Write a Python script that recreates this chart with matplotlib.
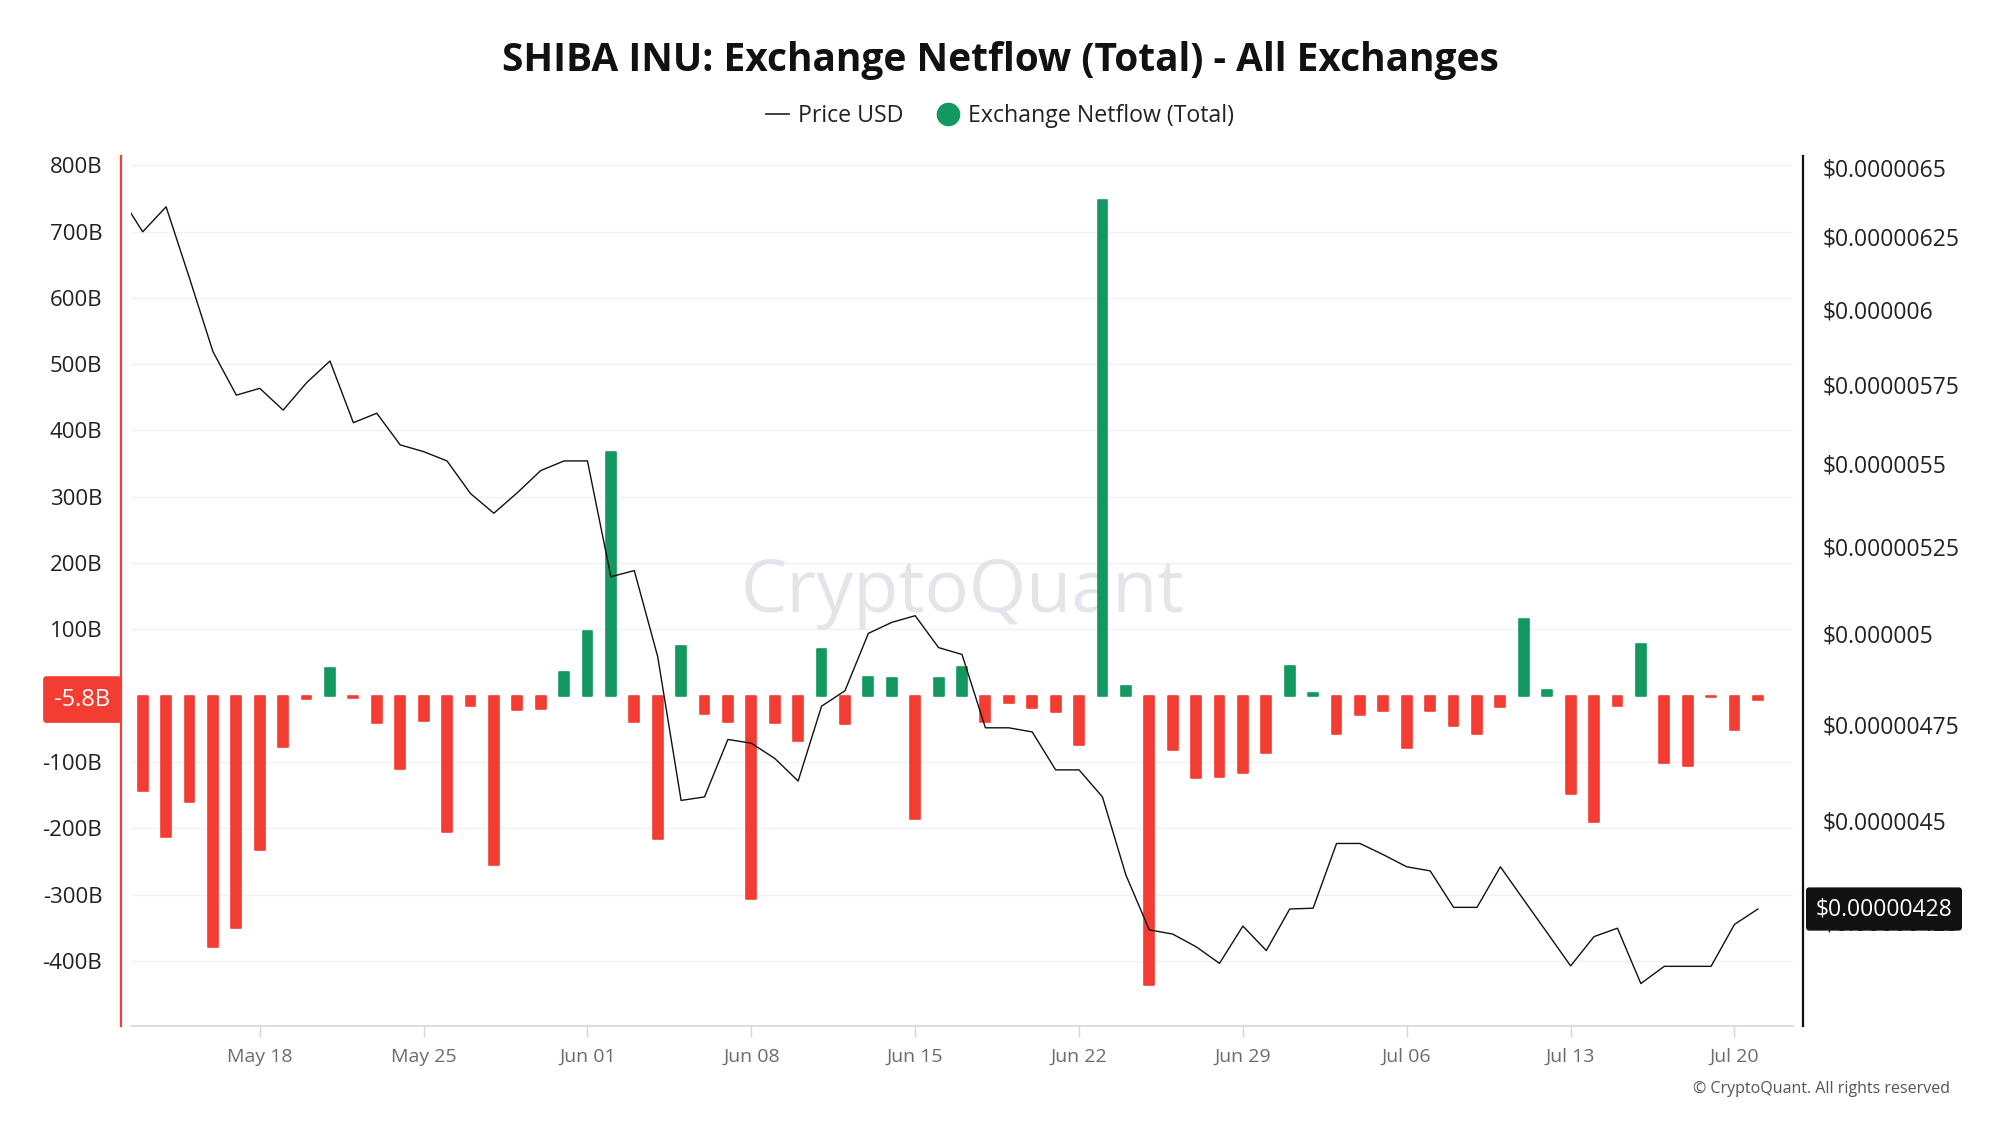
import matplotlib
matplotlib.use('Agg')
import matplotlib.pyplot as plt
import matplotlib.dates as mdates
import matplotlib.transforms as mtransforms
from matplotlib.lines import Line2D
from matplotlib.ticker import FixedLocator, FixedFormatter, NullLocator
import pandas as pd

plt.rcParams['font.family'] = ['Open Sans', 'DejaVu Sans']

# ---------------- data ----------------
netflow_start = '2023-05-13'          # first netflow bar
price_start = '2023-05-12'            # price series starts one day earlier (clipped at left edge)

# Exchange netflow, billions SHIB (daily)
netflow_b = [-143, -213, -160, -379, -350, -233, -77, -5, 42, -3,
             -41, -111, -38, -205, -15, -256, -22, -20, 36, 98,
             368, -39, -216, 75, -28, -40, -307, -41, -68, 71,
             -43, 28, 26, -186, 26, 43, -39, -11, -18, -24,
             -75, 748, 15, -436, -82, -124, -122, -116, -86, 45,
             4, -57, -29, -23, -79, -23, -46, -57, -17, 115,
             8, -148, -190, -15, 78, -102, -106, -2, -51, -5.8]

# Price USD (x 1e-6)
price_micro = [6.400, 6.268, 6.357, 6.106, 5.859, 5.717, 5.739, 5.669, 5.757, 5.828,
               5.629, 5.659, 5.559, 5.538, 5.509, 5.409, 5.349, 5.411, 5.479, 5.509,
               5.509, 5.161, 5.179, 4.934, 4.550, 4.559, 4.709, 4.699, 4.659, 4.600,
               4.798, 4.840, 4.999, 5.030, 5.049, 4.959, 4.940, 4.740, 4.740, 4.729,
               4.629, 4.629, 4.559, 4.363, 4.230, 4.220, 4.190, 4.151, 4.239, 4.181,
               4.280, 4.282, 4.441, 4.441, 4.413, 4.383, 4.373, 4.284, 4.284, 4.383,
               4.302, 4.223, 4.145, 4.214, 4.234, 4.104, 4.144, 4.144, 4.144, 4.243, 4.280]

x_tick_labels = ['May 18', 'May 25', 'Jun 01', 'Jun 08', 'Jun 15', 'Jun 22',
                 'Jun 29', 'Jul 06', 'Jul 13', 'Jul 20']
left_ticks = [-400, -300, -200, -100, 100, 200, 300, 400, 500, 600, 700, 800]
left_tick_labels = ['-400B', '-300B', '-200B', '-100B', '100B', '200B', '300B',
                    '400B', '500B', '600B', '700B', '800B']
right_ticks_micro = [6.5, 6.25, 6.0, 5.75, 5.5, 5.25, 5.0, 4.75, 4.5, 4.25]
right_tick_labels = ['$0.0000065', '$0.00000625', '$0.000006', '$0.00000575',
                     '$0.0000055', '$0.00000525', '$0.000005', '$0.00000475',
                     '$0.0000045', '$0.00000425']
latest_netflow_label = '-5.8B'
latest_price_label = '$0.00000428'
latest_price = 4.28e-6

title = 'SHIBA INU: Exchange Netflow (Total) - All Exchanges'

# ---------------- styling ----------------
RED = '#f33d33'
GREEN = '#13985f'

nf_dates = pd.date_range(netflow_start, periods=len(netflow_b), freq='D')
pr_dates = pd.date_range(price_start, periods=len(price_micro), freq='D')
prices = [p * 1e-6 for p in price_micro]
tick_dates = [pd.Timestamp(f'{lbl} 2023') for lbl in x_tick_labels]

W, H = 2000, 1125
fig = plt.figure(figsize=(W / 100, H / 100), dpi=100)
fig.patch.set_facecolor('white')

ax_left, ax_right, ax_top, ax_bottom = 131, 1793, 156, 1025.7
ax = fig.add_axes([ax_left / W, 1 - ax_bottom / H, (ax_right - ax_left) / W, (ax_bottom - ax_top) / H])
ax2 = ax.twinx()

# bars
colors = [GREEN if v >= 0 else RED for v in netflow_b]
ax.bar(nf_dates, netflow_b, width=0.42, color=colors, edgecolor=colors,
       linewidth=1.2, joinstyle='round', zorder=3)

ax.set_ylim(-497.7, 814)
x0 = pd.Timestamp(netflow_start) - pd.Timedelta(hours=12)
x1 = nf_dates[-1] + pd.Timedelta(hours=36)
ax.set_xlim(x0, x1)

ax.yaxis.set_major_locator(FixedLocator(left_ticks))
ax.yaxis.set_major_formatter(FixedFormatter(left_tick_labels))
ax.grid(axis='y', color='#f1f1f3', linewidth=1.0, zorder=0)
ax.set_axisbelow(True)
ax.tick_params(axis='y', length=0, pad=13.5, labelsize=16, labelcolor='#222222')

ax.xaxis.set_major_locator(FixedLocator(mdates.date2num(tick_dates)))
ax.xaxis.set_major_formatter(FixedFormatter(x_tick_labels))
ax.tick_params(axis='x', length=8, width=1.0, color='#d5d6de', pad=8,
               labelsize=14, labelcolor='#6b6b75')

for s in ['top', 'right']:
    ax.spines[s].set_visible(False)
ax.spines['left'].set_color(RED)
ax.spines['left'].set_linewidth(1.6)
ax.spines['left'].set_position(('outward', 7.2))
ax.spines['bottom'].set_color('#d5d6de')
ax.spines['bottom'].set_linewidth(1.2)

# watermark (behind the bars)
ax.text(962 / W, 1 - 611.7 / H, 'CryptoQuant', transform=fig.transFigure,
        ha='center', va='baseline', fontsize=53, color='#e4e4ea', zorder=1)

# price line
ax2.plot(pr_dates, prices, color='#111111', linewidth=1.0, zorder=5)
ax2.set_yscale('log')
ax2.set_ylim(4.0077e-6, 6.5415e-6)
ax2.yaxis.set_major_locator(FixedLocator([t * 1e-6 for t in right_ticks_micro]))
ax2.yaxis.set_major_formatter(FixedFormatter(right_tick_labels))
ax2.yaxis.set_minor_locator(NullLocator())
ax2.tick_params(axis='y', which='both', length=0, pad=14.4, labelsize=16.5, labelcolor='#222222')
for s in ['top', 'left', 'bottom']:
    ax2.spines[s].set_visible(False)
ax2.spines['right'].set_color('#111111')
ax2.spines['right'].set_linewidth(1.6)
ax2.spines['right'].set_position(('outward', 7.2))
ax2.set_xlim(x0, x1)

# latest value badges
tl = mtransforms.blended_transform_factory(fig.transFigure, ax.transData)
ax.text(82.5 / W, netflow_b[-1], latest_netflow_label, transform=tl, ha='center', va='center',
        fontsize=17, color='white', clip_on=False, zorder=10,
        bbox=dict(boxstyle='round,pad=0.48,rounding_size=0.15', fc=RED, ec='none'))
tr = mtransforms.blended_transform_factory(fig.transFigure, ax2.transData)
ax2.text(1884 / W, latest_price, latest_price_label, transform=tr, ha='center', va='center',
         fontsize=16.5, color='white', clip_on=False, zorder=10,
         bbox=dict(boxstyle='round,pad=0.42,rounding_size=0.15', fc='#111111', ec='none'))

# title & legend
fig.text(0.5, 1 - 61 / H, title, ha='center', va='center', fontsize=28, fontweight='bold',
         color='#111111')
handles = [Line2D([], [], color='#333333', linewidth=1.3),
           Line2D([], [], marker='o', linestyle='none', markersize=16,
                  markerfacecolor=GREEN, markeredgecolor=GREEN)]
fig.legend(handles, ['Price USD', 'Exchange Netflow (Total)'], loc='center',
           bbox_to_anchor=(0.5, 1 - 116 / H), ncol=2, frameon=False, fontsize=16.7,
           handlelength=1.0, handletextpad=0.4, columnspacing=1.4, labelcolor='#222222')

fig.text(1950 / W, 1 - 1089 / H, '\u00a9 CryptoQuant. All rights reserved', ha='right',
         va='center', fontsize=11.5, color='#555555')

fig.savefig('out.png', dpi=100, facecolor='white')
